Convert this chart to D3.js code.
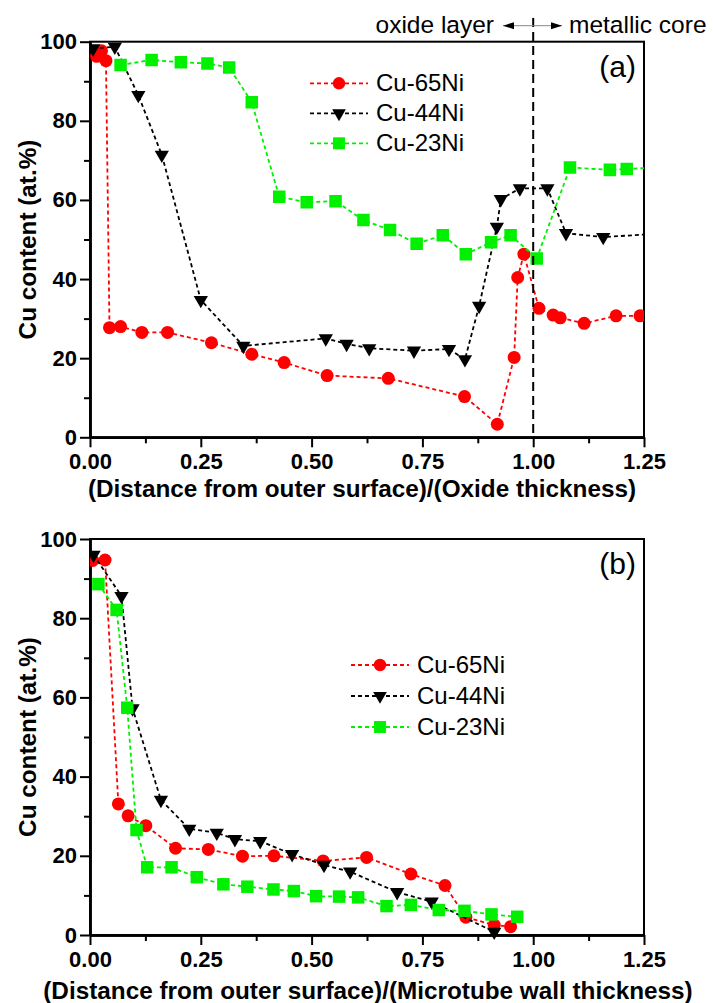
<!DOCTYPE html>
<html><head><meta charset="utf-8">
<script src="https://cdn.jsdelivr.net/npm/d3@7"></script>
<style>body{margin:0;background:#fff}svg{display:block}text{font-family:"Liberation Sans",Arial,sans-serif}</style>
</head><body>
<svg id="chart" width="713" height="1003"></svg>
<script>
// ---------- data ----------
const seriesNames = ["Cu-65Ni", "Cu-44Ni", "Cu-23Ni"];
const seriesColors = ["#ff0000", "#000000", "#00f000"];
const seriesSymbols = ["circle", "triangleDown", "square"];
const xTickValues = [0, 0.25, 0.5, 0.75, 1.0, 1.25];
const xTickLabels = ["0.00", "0.25", "0.50", "0.75", "1.00", "1.25"];
const yTickValues = [0, 20, 40, 60, 80, 100];
const yTickLabels = ["0", "20", "40", "60", "80", "100"];
const yTitle = "Cu content (at.%)";
const xTitleA = "(Distance from outer surface)/(Oxide thickness)";
const xTitleB = "(Distance from outer surface)/(Microtube wall thickness)";

// panel (a): oxide layer profiles
const oxide65Ni = [[0.015,96.3],[0.026,97.7],[0.036,95.2],[0.044,27.7],[0.069,28.0],[0.117,26.5],[0.175,26.5],[0.274,23.9],[0.365,21.0],[0.438,18.9],[0.535,15.6],[0.673,14.9],[0.845,10.3],[0.919,3.3],[0.957,20.2],[0.965,40.4],[0.979,46.3],[1.013,32.6],[1.045,30.9],[1.061,30.2],[1.115,28.8],[1.187,30.7],[1.241,30.7]];
const oxide44Ni = [[0.007,98.3],[0.056,98.7],[0.109,86.5],[0.162,71.4],[0.250,34.7],[0.346,23.1],[0.532,25.0],[0.579,23.6],[0.630,22.5],[0.731,21.9],[0.810,22.3],[0.846,19.7],[0.878,33.2],[0.918,53.2],[0.927,60.2],[0.970,62.9],[1.032,62.9],[1.074,51.6],[1.158,50.6],[1.270,51.4]];
const oxide23Ni = [[0.069,94.1],[0.139,95.4],[0.205,94.8],[0.265,94.5],[0.314,93.5],[0.365,84.7],[0.427,60.8],[0.489,59.4],[0.554,59.7],[0.617,54.9],[0.677,52.4],[0.737,48.9],[0.796,51.1],[0.848,46.3],[0.905,49.3],[0.949,51.1],[1.008,45.2],[1.083,68.2],[1.173,67.6],[1.211,67.8],[1.270,68.2]];

// panel (b): microtube wall profiles
const tube65Ni = [[0.006,94.6],[0.034,94.7],[0.064,33.1],[0.086,30.1],[0.126,27.6],[0.193,21.9],[0.267,21.6],[0.344,19.9],[0.415,20.0],[0.526,18.7],[0.624,19.6],[0.724,15.4],[0.801,12.5],[0.848,4.5],[0.912,2.5],[0.949,2.1]];
const tube44Ni = [[0.008,96.0],[0.071,85.6],[0.096,57.2],[0.160,34.1],[0.224,26.8],[0.286,25.8],[0.327,24.2],[0.384,23.7],[0.456,20.4],[0.528,17.7],[0.587,16.0],[0.693,10.8],[0.771,8.4],[0.912,0.8]];
const tube23Ni = [[0.019,88.6],[0.060,82.1],[0.084,57.4],[0.105,26.5],[0.129,17.1],[0.184,17.1],[0.241,14.6],[0.301,12.8],[0.355,12.2],[0.414,11.5],[0.460,11.1],[0.510,9.8],[0.562,9.7],[0.605,9.5],[0.669,7.3],[0.724,7.6],[0.787,6.3],[0.845,6.1],[0.906,5.2],[0.964,4.6]];

// ---------- drawing ----------
const svg = d3.select("#chart");
const FONT_TICK = 22, FONT_TITLE = 24.3, FONT_LEG = 24;

function symbolPath(kind, s) {
  if (kind === "circle") return d3.symbol().type(d3.symbolCircle).size(Math.PI * s * s)();
  if (kind === "square") return d3.symbol().type(d3.symbolSquare).size(s * s * 3.7)();
  const w = s * 1.1, h = s * 1.9;
  return `M${-w},${-h/3}L${w},${-h/3}L0,${2*h/3}Z`;
}

function drawPanel(cfg) {
  const {left, top, width, height, data, xTitle, label, xTitleX, xTitleDy, clipId, legend} = cfg;
  const x = d3.scaleLinear().domain([0, 1.25]).range([left, left + width]);
  const y = d3.scaleLinear().domain([0, 100]).range([top + height, top]);
  const g = svg.append("g");

  g.append("clipPath").attr("id", clipId).append("rect")
    .attr("x", left).attr("y", top - 8).attr("width", width).attr("height", height + 16);

  g.append("rect").attr("x", left).attr("y", top).attr("width", width).attr("height", height)
    .attr("fill", "none").attr("stroke", "#000").attr("stroke-width", 2);

  const yAxis = d3.axisLeft(y).tickValues(yTickValues).tickFormat((d, i) => yTickLabels[i]).tickSize(10).tickSizeOuter(0).tickPadding(3);
  const ya = g.append("g").attr("transform", `translate(${left},0)`).call(yAxis);
  const yMinor = d3.axisLeft(y).tickValues(d3.range(10, 100, 20)).tickFormat("").tickSize(6).tickSizeOuter(0);
  const ym = g.append("g").attr("transform", `translate(${left},0)`).call(yMinor);
  const xAxis = d3.axisBottom(x).tickValues(xTickValues).tickFormat((d, i) => xTickLabels[i]).tickSize(10).tickSizeOuter(0).tickPadding(6);
  const xa = g.append("g").attr("transform", `translate(0,${top + height})`).call(xAxis);
  const xMinor = d3.axisBottom(x).tickValues(d3.range(0.125, 1.25, 0.25)).tickFormat("").tickSize(6).tickSizeOuter(0);
  const xm = g.append("g").attr("transform", `translate(0,${top + height})`).call(xMinor);
  [ya, ym, xa, xm].forEach(a => {
    a.select(".domain").attr("stroke-width", 2.5);
    a.selectAll(".tick line").attr("stroke-width", 2);
    a.selectAll("text").attr("font-size", FONT_TICK).attr("font-weight", "bold")
      .attr("font-family", '"Liberation Sans",Arial,sans-serif').attr("fill", "#000");
  });

  g.append("text").attr("transform", `translate(36,${top + height / 2}) rotate(-90)`)
    .attr("text-anchor", "middle").attr("font-size", FONT_TITLE).attr("font-weight", "bold").text(yTitle);
  g.append("text").attr("x", xTitleX).attr("y", top + height + xTitleDy)
    .attr("text-anchor", "middle").attr("font-size", FONT_TITLE).attr("font-weight", "bold").text(xTitle);
  g.append("text").attr("x", left + width - 8).attr("y", top + 35)
    .attr("text-anchor", "end").attr("font-size", 30).text(label);

  const line = d3.line().x(d => x(d[0])).y(d => y(d[1]));
  const plot = g.append("g").attr("clip-path", `url(#${clipId})`);
  data.forEach((ser, i) => {
    plot.append("path").datum(ser).attr("d", line).attr("fill", "none")
      .attr("stroke", seriesColors[i]).attr("stroke-width", 1.8).attr("stroke-dasharray", "4,3");
    plot.selectAll(null).data(ser).enter().append("path")
      .attr("transform", d => `translate(${x(d[0])},${y(d[1])})`)
      .attr("d", symbolPath(seriesSymbols[i], 6.5)).attr("fill", seriesColors[i]);
  });

  seriesNames.forEach((name, i) => {
    const ly = legend.y + i * legend.dy;
    g.append("line").attr("x1", legend.x).attr("x2", legend.x + 58).attr("y1", ly).attr("y2", ly)
      .attr("stroke", seriesColors[i]).attr("stroke-width", 1.8).attr("stroke-dasharray", "4,3");
    g.append("path").attr("transform", `translate(${legend.x + 29},${ly})`)
      .attr("d", symbolPath(seriesSymbols[i], 6.2)).attr("fill", seriesColors[i]);
    g.append("text").attr("x", legend.x + 66).attr("y", ly + 8).attr("font-size", FONT_LEG).text(name);
  });
  return {x, y};
}

const pa = drawPanel({left: 90, top: 41.7, width: 554, height: 395.6,
  data: [oxide65Ni, oxide44Ni, oxide23Ni], xTitle: xTitleA, xTitleX: 362, xTitleDy: 60, label: "(a)",
  clipId: "clipA", legend: {x: 310, y: 83.3, dy: 30}});
const pb = drawPanel({left: 90, top: 539, width: 554, height: 396,
  data: [tube65Ni, tube44Ni, tube23Ni], xTitle: xTitleB, xTitleX: 368, xTitleDy: 64, label: "(b)",
  clipId: "clipB", legend: {x: 351, y: 665, dy: 31}});

const bx = pa.x(1.0);
svg.append("line").attr("x1", bx).attr("x2", bx).attr("y1", 18).attr("y2", pa.y(0))
  .attr("stroke", "#000").attr("stroke-width", 2).attr("stroke-dasharray", "9,5");
svg.append("line").attr("x1", 503).attr("x2", 562).attr("y1", 25.7).attr("y2", 25.7)
  .attr("stroke", "#888").attr("stroke-width", 1);
svg.append("path").attr("d", "M503,25.7L514,22.2L514,29.2Z").attr("fill", "#000");
svg.append("path").attr("d", "M562,25.7L551,22.2L551,29.2Z").attr("fill", "#000");
svg.append("text").attr("x", 494).attr("y", 33).attr("text-anchor", "end").attr("font-size", 24.5).text("oxide layer");
svg.append("text").attr("x", 569).attr("y", 33).attr("text-anchor", "start").attr("font-size", 24.5).text("metallic core");
</script>
</body></html>
